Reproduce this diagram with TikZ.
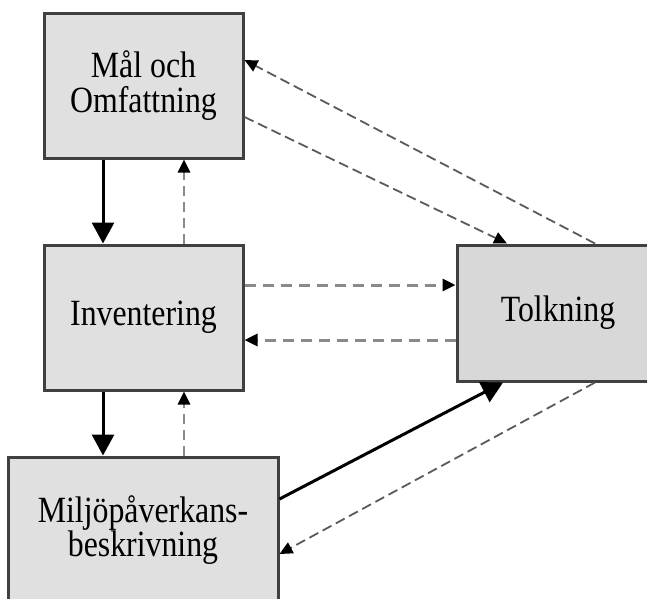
\documentclass[tikz,border=0pt]{standalone}
\usepackage{fontspec}
\setmainfont{Liberation Serif}[FakeStretch=0.86]
\usetikzlibrary{arrows.meta,positioning,calc}

\definecolor{boxfill}{HTML}{E0E0E0}
\definecolor{boxfilldark}{HTML}{D8D8D8}
\definecolor{boxline}{HTML}{404040}
\definecolor{feedback}{HTML}{8A8A8A}
\definecolor{diagdash}{HTML}{5A5A5A}

\begin{document}
\begin{tikzpicture}[
    x=1pt,y=-1pt,
    font=\fontsize{37}{34.5}\selectfont,
    stage/.style={rectangle,draw=boxline,fill=boxfill,line width=3pt,align=center,inner sep=0pt},
    main flow/.style={-{Triangle[length=21pt,width=22pt]},line width=3pt,black},
    back flow/.style={-{Triangle[length=13pt,width=12pt,color=black]},line width=2.6pt,feedback,dash pattern=on 10pt off 6pt},
    side flow/.style={-{Triangle[length=13pt,width=12pt,color=black]},line width=1.8pt,diagdash,dash pattern=on 10pt off 5pt}
]
    \useasboundingbox (0,0) rectangle (647,598);
    \clip (0,0) rectangle (647,598);

    % The four stages; two of them run past the page edge.
    \node[stage,minimum width=199pt,minimum height=145pt] (mal)  at (143.5,85.5)  {Mål och\\Omfattning};
    \node[stage,minimum width=199pt,minimum height=145pt] (inv)  at (143.5,317.5) {Inventering};
    \node[stage,minimum width=270pt,minimum height=146pt] (milj) at (143,530)     {Miljöpåverkans-\\beskrivning};
    \node[stage,fill=boxfilldark,minimum width=202pt,minimum height=136pt] (tolk) at (558,313) {Tolkning};

    % Forward steps down the left column.
    \draw[main flow] ([xshift=-40.5pt]mal.south) -- ([xshift=-40.5pt]inv.north);
    \draw[main flow] ([xshift=-40.5pt]inv.south) -- ([xshift=-40.5pt]inv.south |- milj.north);
    \draw[main flow] ([yshift=31pt]milj.east) -- ([xshift=-55pt]tolk.south);

    % Iterations back up the column.
    \draw[back flow] ([xshift=40.5pt]inv.north) -- ([xshift=40.5pt]mal.south);
    \draw[back flow] ([xshift=40.5pt]inv.south |- milj.north) -- ([xshift=40.5pt]inv.south);

    % Links to and from the interpretation step.
    \draw[back flow,line width=3pt,dash pattern=on 11pt off 7pt] ([yshift=32.5pt]inv.east) -- ([yshift=32.5pt]inv.east -| tolk.west);
    \draw[back flow,line width=3pt,dash pattern=on 11pt off 7pt] ([yshift=-22.5pt]inv.east -| tolk.west) -- ([yshift=-22.5pt]inv.east);
    \draw[side flow] ([yshift=-31.5pt]mal.east) -- ([xshift=-51pt]tolk.north);
    \draw[side flow] ([xshift=37pt]tolk.north) -- ([yshift=25.5pt]mal.east);
    \draw[side flow] ([xshift=37pt]tolk.south) -- ([yshift=-24pt]milj.east);
\end{tikzpicture}
\end{document}
